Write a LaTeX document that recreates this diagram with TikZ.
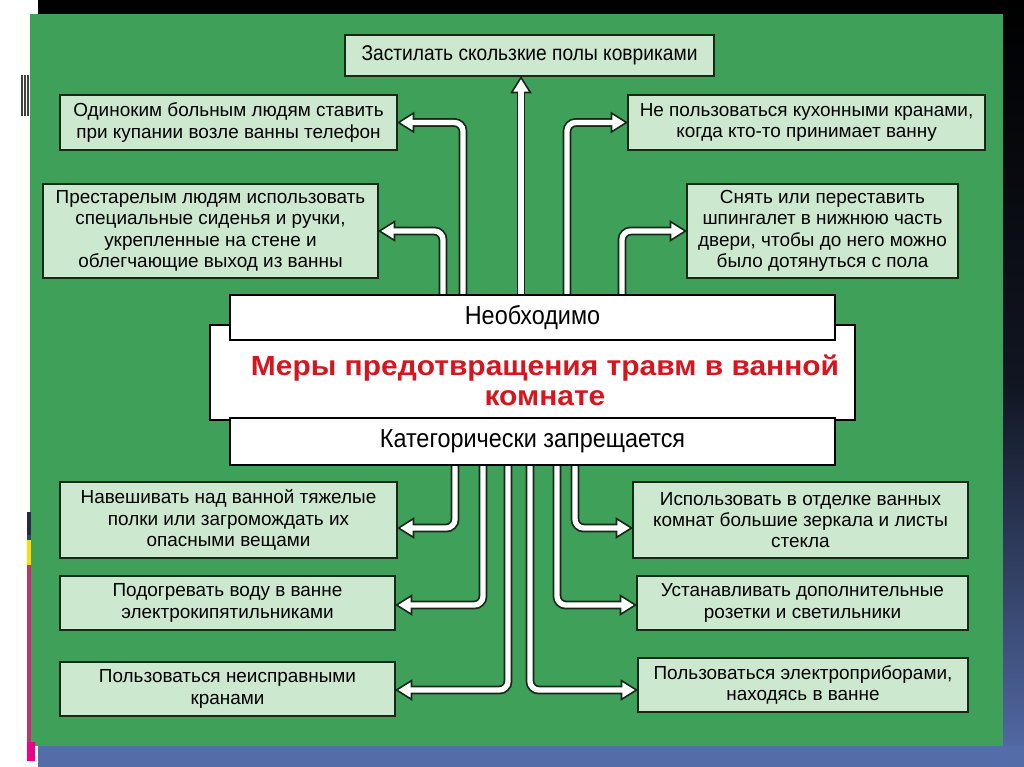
\documentclass[tikz,border=0pt]{standalone}
\usepackage{fontspec}
\setmainfont{Liberation Sans}
\newfontfamily\narrowfont[FakeStretch=0.9]{Liberation Sans}
\newfontfamily\widefont[FakeStretch=1.08]{Liberation Sans}
\usetikzlibrary{arrows.meta,calc}
\pgfdeclarelayer{back}
\pgfdeclarelayer{pipes}
\pgfsetlayers{back,pipes,main}

\definecolor{panel}{RGB}{63,160,90}
\definecolor{boxfill}{RGB}{204,232,206}
\definecolor{boxline}{RGB}{22,40,24}
\definecolor{titlered}{RGB}{214,22,30}
\definecolor{slate}{RGB}{84,108,168}
\definecolor{pinkbar}{RGB}{196,48,110}

\tikzset{
  every node/.style={inner sep=0pt, outer sep=0pt},
  infobox/.style={draw=boxline, line width=1.5pt, fill=boxfill, align=center,
    font=\fontsize{14.2}{16}\selectfont},
  whitebox/.style={draw=black, line width=1.8pt, fill=white, align=center},
  pipedark/.style={line width=6.6pt, draw=boxline, rounded corners=6.5pt, shorten >=12pt},
  pipetip/.style={line width=1.2pt, draw=boxline,
    -{Triangle[length=13pt, width=16pt, fill=white]}, rounded corners=6.5pt},
  pipewhite/.style={line width=4pt, draw=white, rounded corners=6.5pt, shorten >=11pt},
}

\newcommand\pbox[7]{\node[#1, minimum width={(#5-#3)*0.75pt}, minimum height={(#6-#4)*0.75pt}] (#2) at ({(#3+#5)/2},{(#4+#6)/2}) {#7};}
\newcommand\pipeline[1]{%
  \begin{pgfonlayer}{pipes}
    \draw[pipedark] #1;
    \draw[pipetip] #1;
    \draw[pipewhite] #1;
  \end{pgfonlayer}}

\begin{document}
\begin{tikzpicture}[x=0.75pt, y=-0.75pt]
\useasboundingbox (0,0) rectangle (1024,767);
\begin{pgfonlayer}{back}
  \fill[white] (0,0) rectangle (1024,767);
  \fill[black] (38,0) rectangle (1024,15);
  \shade[top color=black, bottom color=slate, middle color=black!80!slate] (1003,0) rectangle (1024,767);
  \fill[slate] (38,746) rectangle (1024,767);
  \fill[panel] (30,14) rectangle (1003,746);
  \fill[black!75] (21,75) rectangle (22.5,116);
  \fill[black!75] (24,75) rectangle (25.5,116);
  \fill[black!75] (27,75) rectangle (28.5,116);
  \fill[black!60!slate] (27,512) rectangle (31,535);
  \fill[black!40!slate] (27,535) rectangle (31,540);
  \fill[yellow!80!orange] (27,540) rectangle (31,565);
  \fill[pinkbar] (27,565) rectangle (31,755);
  \fill[magenta] (27,742) rectangle (35,761);
\end{pgfonlayer}

% top group
\pbox{infobox, font=\narrowfont\fontsize{16}{18}\selectfont}{top}{345}{35}{714}{76}{Застилать скользкие полы ковриками}
\pbox{infobox}{left1}{60}{95}{397}{150}{Одиноким больным людям ставить\\при купании возле ванны телефон}
\pbox{infobox}{left2}{43}{184}{378}{278}{Престарелым людям использовать\\специальные сиденья и ручки,\\укрепленные на стене и\\облегчающие выход из ванны}
\pbox{infobox}{right1}{628}{95}{985}{150}{Не пользоваться кухонными кранами,\\когда кто-то принимает ванну}
\pbox{infobox}{right2}{687}{184}{958}{278}{Снять или переставить\\шпингалет в нижнюю часть\\двери, чтобы до него можно\\было дотянуться с пола}

% central group
\pbox{whitebox}{core}{210}{325}{855}{420}{}
\pbox{whitebox, font=\narrowfont\fontsize{19.5}{22}\selectfont}{need}{230}{295}{835}{340}{Необходимо}
\pbox{whitebox, font=\narrowfont\fontsize{19.5}{22}\selectfont}{forb}{230}{418}{835}{465}{Категорически запрещается}
\node[align=center, text=titlered, font=\widefont\bfseries\fontsize{20.8}{22.5}\selectfont] (title) at (545,380) {Меры предотвращения травм в ванной\\комнате};

% bottom group
\pbox{infobox}{lb1}{60}{482}{397}{558}{Навешивать над ванной тяжелые\\полки или загромождать их\\опасными вещами}
\pbox{infobox}{lb2}{60}{576}{395}{630}{Подогревать воду в ванне\\электрокипятильниками}
\pbox{infobox}{lb3}{60}{662}{395}{716}{Пользоваться неисправными\\кранами}
\pbox{infobox}{rb1}{633}{482}{968}{558}{Использовать в отделке ванных\\комнат большие зеркала и листы\\стекла}
\pbox{infobox}{rb2}{637}{576}{968}{630}{Устанавливать дополнительные\\розетки и светильники}
\pbox{infobox}{rb3}{638}{658}{968}{712}{Пользоваться электроприборами,\\находясь в ванне}

% connectors up
\pipeline{(need.north -| 521,0) -- (top.south -| 521,0)}
\pipeline{(need.north -| 463,0) |- (left1.east)}
\pipeline{(need.north -| 443,0) |- (left2.east)}
\pipeline{(need.north -| 567,0) |- (right1.west)}
\pipeline{(need.north -| 622,0) |- (right2.west)}
% connectors down
\pipeline{(forb.south -| 455,0) |- ($(lb1.east)+(0,8)$)}
\pipeline{(forb.south -| 483,0) |- ($(lb2.east)+(0,2)$)}
\pipeline{(forb.south -| 508,0) |- ($(lb3.east)+(0,1)$)}
\pipeline{(forb.south -| 575,0) |- ($(rb1.west)+(0,8)$)}
\pipeline{(forb.south -| 557,0) |- ($(rb2.west)+(0,2)$)}
\pipeline{(forb.south -| 530,0) |- ($(rb3.west)+(0,5)$)}
\end{tikzpicture}
\end{document}
